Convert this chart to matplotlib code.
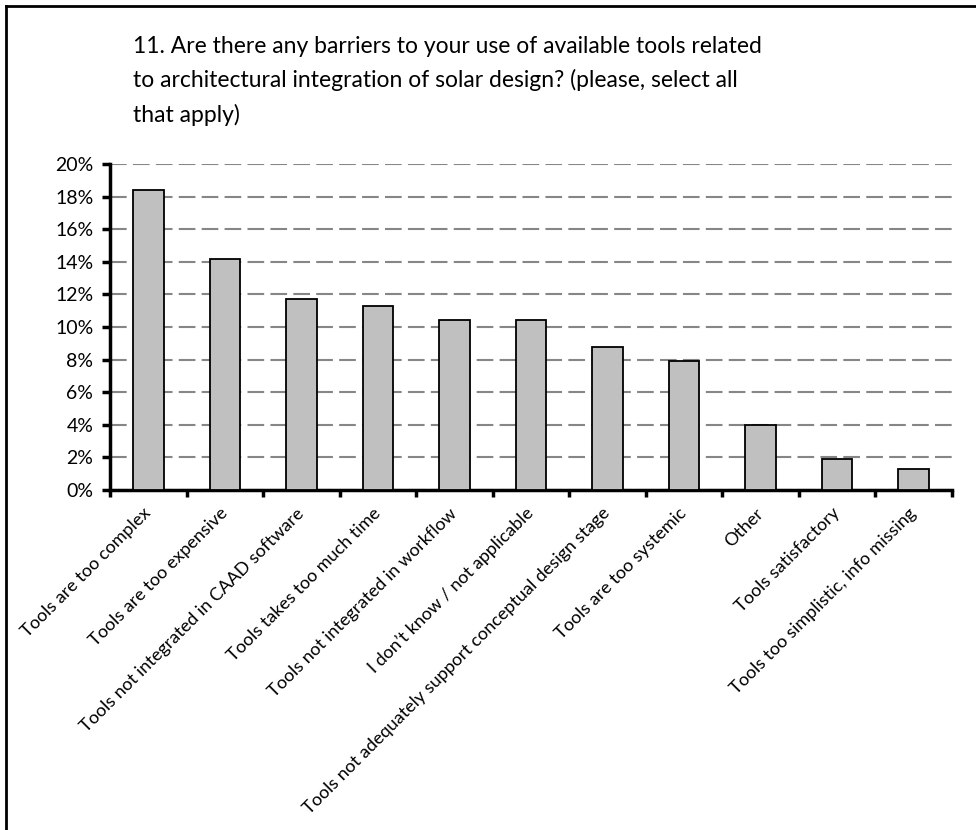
import matplotlib.pyplot as plt
from matplotlib.lines import Line2D
from matplotlib.ticker import FuncFormatter, MultipleLocator
import numpy as np

plt.rcParams['font.family'] = ['Lato', 'DejaVu Sans']

categories = [
    "Tools are too complex",
    "Tools are too expensive",
    "Tools not integrated in CAAD software",
    "Tools takes too much time",
    "Tools not integrated in workflow",
    "I don\u2019t know / not applicable",
    "Tools not adequately support conceptual design stage",
    "Tools are too systemic",
    "Other",
    "Tools satisfactory",
    "Tools too simplistic, info missing",
]
shares = [18.4, 14.2, 11.7, 11.3, 10.4, 10.4, 8.8, 7.9, 4.0, 1.9, 1.3]

title = ("11. Are there any barriers to your use of available tools related\n"
         "to architectural integration of solar design? (please, select all\n"
         "that apply)")

fig = plt.figure(figsize=(9.76, 8.3), dpi=100)
ax = fig.add_axes([0.1127, 0.4096, 0.8627, 0.3928])

x = np.arange(len(categories))
ax.bar(x, shares, width=0.4, color="#c0c0c0", edgecolor="black",
       linewidth=1.3, zorder=3)

ax.set_xlim(-0.5, len(categories) - 0.5)
ax.set_ylim(0, 20)
ax.yaxis.set_major_locator(MultipleLocator(2))
ax.yaxis.set_major_formatter(FuncFormatter(lambda v, p: f"{v:.0f}%"))
ax.grid(axis="y", color="#868686", linestyle=(0, (8, 3)), linewidth=1.5, zorder=0)

# ticks between categories, labels centred under bars
ax.set_xticks(np.arange(len(categories) + 1) - 0.5)
ax.set_xticklabels([])
ax.set_xticks(x, minor=True)
ax.set_xticklabels(categories, minor=True, rotation=45, ha="right",
                   va="center", rotation_mode="anchor", fontsize=13)
ax.tick_params(axis="x", which="minor", length=0, pad=15)
ax.tick_params(axis="x", which="major", direction="out", length=5, width=2.5)
ax.tick_params(axis="y", direction="out", length=6, width=2.5, labelsize=14, pad=6)

for side in ("top", "right"):
    ax.spines[side].set_visible(False)
for side in ("left", "bottom"):
    ax.spines[side].set_linewidth(2.5)

fig.text(0.136, 0.957, title, fontsize=16.5, va="top", ha="left", linespacing=1.7)

# frame lines along the top and left edge
fig.add_artist(Line2D([0.006, 1.0], [0.9928, 0.9928], color="black", linewidth=2,
                      transform=fig.transFigure))
fig.add_artist(Line2D([0.006, 0.006], [0.0, 0.9928], color="black", linewidth=2,
                      transform=fig.transFigure))

fig.savefig("out.png", dpi=100, facecolor="white")
